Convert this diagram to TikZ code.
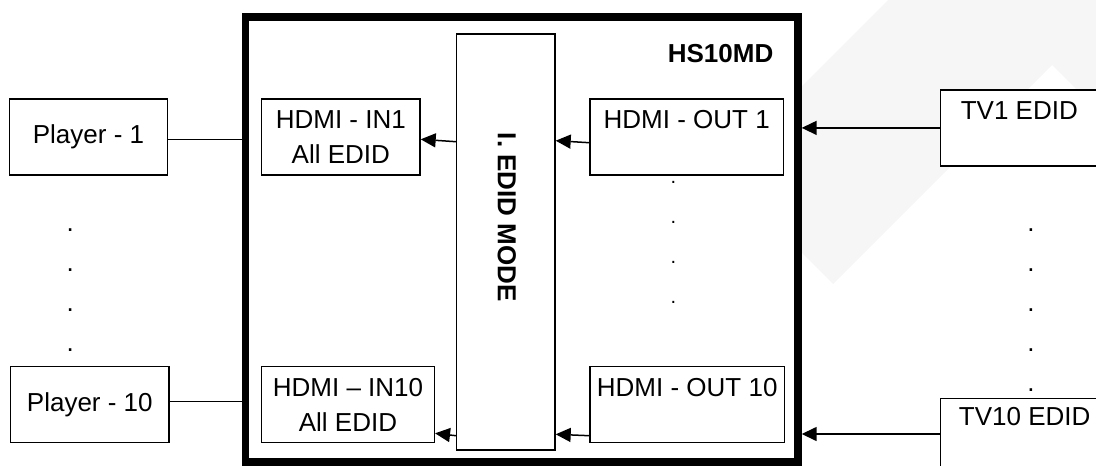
\documentclass[tikz,border=0pt]{standalone}
\usepackage{fontspec}
\setmainfont{Liberation Sans}
\usetikzlibrary{arrows.meta,calc}
\definecolor{wm}{RGB}{246,246,246}
\begin{document}
\begin{tikzpicture}[x=1pt,y=-1pt,
  box/.style={draw,line width=1.5pt,fill=white,inner sep=0pt,align=center,font=\fontsize{26}{34.6}\selectfont},
  conn/.style={line width=1.5pt},
  arr/.style={line width=1.5pt,-{Triangle[length=15pt,width=14pt]}},
  dots/.style={inner sep=0pt,align=center,font=\fontsize{26}{40}\selectfont},
  boldtxt/.style={inner sep=0pt,font=\bfseries\fontsize{26}{34.6}\selectfont},
]
\useasboundingbox (0,0) rectangle (1096,466);
% faint watermark
\fill[wm] (888,0) -- (1096,0) -- (1096,109) -- (1052,65) -- (833,284) -- (780,231) -- (780,108) -- cycle;
% main device box
\node[draw,line width=7.7pt,fill=white,minimum width=552.3pt,minimum height=444.8pt,inner sep=0pt] (hs) at (521.7,239.6) {};
\node[boldtxt,anchor=base east] (title) at (773.5,62) {HS10MD};
% EDID mode box
\node[box,minimum width=98.3pt,minimum height=416pt] (mode) at (505.8,242) {};
\node[boldtxt,rotate=-90] (modetxt) at (506.7,217.5) {I. EDID MODE};
% players
\node[box,minimum width=158.4pt,minimum height=76pt] (p1) at (88.5,137) {Player - 1};
\node[box,minimum width=158.3pt,minimum height=76pt] (p10) at (89.8,404.7) {Player - 10};
% inputs
\node[box,minimum width=158.3pt,minimum height=76pt] (in1) at (340.8,137) {HDMI - IN1\\All EDID};
\node[box,minimum width=172.6pt,minimum height=76pt] (in10) at (348,404.7) {HDMI – IN10\\All EDID};
% outputs
\node[box,minimum width=193.3pt,minimum height=76pt] (out1) at (686.7,137) {HDMI - OUT 1\\\phantom{A}};
\node[box,minimum width=194.3pt,minimum height=76pt] (out10) at (687.2,404.7) {HDMI - OUT 10\\\phantom{A}};
% TVs
\node[box,minimum width=157.3pt,minimum height=75.7pt] (tv1) at (1019.35,127.9) {TV1 EDID\\\phantom{A}};
\node[box,minimum width=168pt,minimum height=71.4pt] (tv10) at (1024.7,434) {TV10 EDID\\\phantom{A}};
% dots
\node[dots] (ldots) at (70.3,290) {.\\.\\.\\.};
\node[dots,font=\fontsize{20}{40}\selectfont] (mdots) at (673.3,242.7) {.\\.\\.\\.};
\node[dots] (rdots) at (1031,310) {.\\.\\.\\.\\.};
% connector end points
\coordinate (p1c) at ($(p1.east)+(0,2.3)$);
\coordinate (p10c) at ($(p10.east)+(0,-3)$);
\coordinate (m1) at ($(mode.west)+(0,-100.3)$);
\coordinate (i1) at ($(in1.east)+(0,2.3)$);
\coordinate (m10) at ($(mode.west)+(0,193.7)$);
\coordinate (i10) at ($(in10.east)+(0,28.6)$);
\coordinate (o1) at ($(out1.west)+(0,5.7)$);
\coordinate (n1) at ($(mode.east)+(0,-101.3)$);
\coordinate (o10) at ($(out10.west)+(0,31)$);
\coordinate (n10) at ($(mode.east)+(0,192.3)$);
% connectors
\draw[conn] (p1c) -- (p1c -| hs.west);
\draw[conn] (p10c) -- (p10c -| hs.west);
\draw[arr] (m1) -- (i1);
\draw[arr] (m10) -- (i10);
\draw[arr] (o1) -- (n1);
\draw[arr] (o10) -- (n10);
\draw[arr] (tv1.west) -- (tv1.west -| hs.east);
\draw[arr] (tv10.west) -- (tv10.west -| hs.east);
\end{tikzpicture}
\end{document}
